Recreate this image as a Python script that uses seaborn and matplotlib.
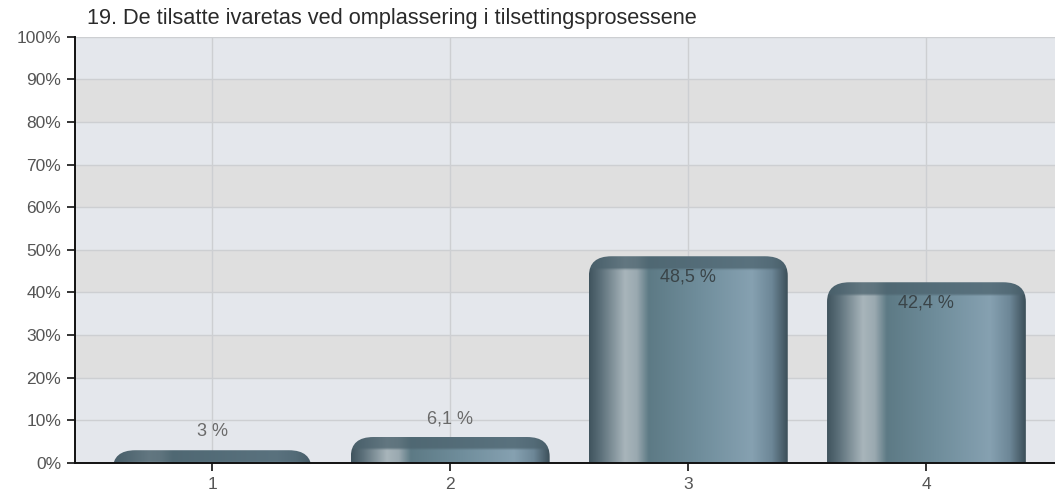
#!/usr/bin/env python3
"""Bar chart: 19. De tilsatte ivaretas ved omplassering i tilsettingsprosessene."""

import matplotlib

matplotlib.use("Agg")
import matplotlib.pyplot as plt
import numpy as np
import seaborn as sns
from matplotlib.colors import to_rgb
from matplotlib.patches import FancyBboxPatch
from matplotlib.ticker import FuncFormatter, MultipleLocator

TITLE = "19. De tilsatte ivaretas ved omplassering i tilsettingsprosessene"
categories = ["1", "2", "3", "4"]
values = [3.0, 6.1, 48.5, 42.4]
value_labels = ["3 %", "6,1 %", "48,5 %", "42,4 %"]

sns.set_theme(style="white")
plt.rcParams["font.family"] = ["Liberation Sans", "DejaVu Sans"]

# horizontal colour profile of a bar (cylinder look), left to right
PROFILE = [
    (0.00, "#40545e"),
    (0.06, "#5d717b"),
    (0.18, "#a8b5bb"),
    (0.24, "#9aa9b0"),
    (0.30, "#5d7a85"),
    (0.55, "#6f8d9b"),
    (0.82, "#86a1b1"),
    (0.92, "#6d8797"),
    (1.00, "#3c4f59"),
]
TOP_DARK = np.array(to_rgb("#4b626d"))


def bar_image(n_cols: int, n_rows: int, y0: float, y1: float) -> np.ndarray:
    xs = np.linspace(0, 1, n_cols)
    pos = [p for p, _ in PROFILE]
    cols = np.array([to_rgb(c) for _, c in PROFILE])
    row = np.stack([np.interp(xs, pos, cols[:, i]) for i in range(3)], axis=1)
    img = np.repeat(row[None, :, :], n_rows, axis=0)
    ys = np.linspace(y1, y0, n_rows)  # row 0 is the top
    top = y1 - ys
    blend = np.clip((3.2 - top) / 0.6, 0, 1) * 0.75
    img = img * (1 - blend[:, None, None]) + TOP_DARK * blend[:, None, None]
    return img


def main() -> None:
    fig = plt.figure(figsize=(10.55, 4.96), dpi=100)
    ax = fig.add_axes([0.0711, 0.0665, 0.935, 0.8595])

    sns.barplot(x=categories, y=values, ax=ax, width=0.835, color="#5f7c86",
                saturation=1, zorder=3)
    bars = list(ax.patches)

    # alternating background bands
    for lo in range(0, 100, 10):
        shade = "#dfdfdf" if lo > 0 and lo % 20 == 0 else "#e4e7ec"
        ax.axhspan(lo, lo + 10, color=shade, zorder=0, lw=0)

    xlim = (-0.576, 3.567)
    ax.set_xlim(*xlim)
    ax.set_ylim(0, 100)

    for patch, val, lab in zip(bars, values, value_labels):
        x0 = patch.get_x()
        w = patch.get_width()
        patch.set_visible(False)
        ybot = -8
        clip = FancyBboxPatch((x0, ybot), w, val - ybot,
                              boxstyle="round,pad=0,rounding_size=0.095",
                              mutation_aspect=48, transform=ax.transData,
                              facecolor="none", edgecolor="none")
        ax.add_patch(clip)
        img = bar_image(300, 200, ybot, val)
        im = ax.imshow(img, extent=(x0, x0 + w, ybot, val), aspect="auto",
                       interpolation="bilinear", zorder=3)
        im.set_clip_path(clip)
        xc = x0 + w / 2
        if val > 20:
            ax.text(xc, val - 4.8, lab, ha="center", va="center",
                    fontsize=13, color="#3a4448", zorder=5)
        else:
            ax.text(xc, val + 4.3, lab, ha="center", va="center",
                    fontsize=13, color="#6a6a6a", zorder=5)

    ax.set_aspect("auto")
    ax.set_xlim(*xlim)
    ax.set_ylim(0, 100)

    ax.yaxis.set_major_locator(MultipleLocator(10))
    ax.yaxis.set_major_formatter(FuncFormatter(lambda v, _: f"{v:.0f}%"))
    ax.grid(True, color="#cdcfd2", lw=1.0, zorder=1)
    ax.set_axisbelow(True)

    for side in ("top", "right"):
        ax.spines[side].set_visible(False)
    for side in ("left", "bottom"):
        ax.spines[side].set_color("#111111")
        ax.spines[side].set_linewidth(1.4)
        ax.spines[side].set_zorder(6)

    ax.tick_params(axis="both", direction="out", length=6, width=1.2,
                   color="#111111", labelsize=12.5, labelcolor="#555555",
                   left=True, bottom=True, pad=4)
    ax.set_xlabel("")
    ax.set_ylabel("")

    fig.text(0.082, 0.962, TITLE, fontsize=15.7, color="#2a2a2a",
             ha="left", va="center")

    fig.savefig("out.png", dpi=100, facecolor="white")
    plt.close(fig)


if __name__ == "__main__":
    main()
